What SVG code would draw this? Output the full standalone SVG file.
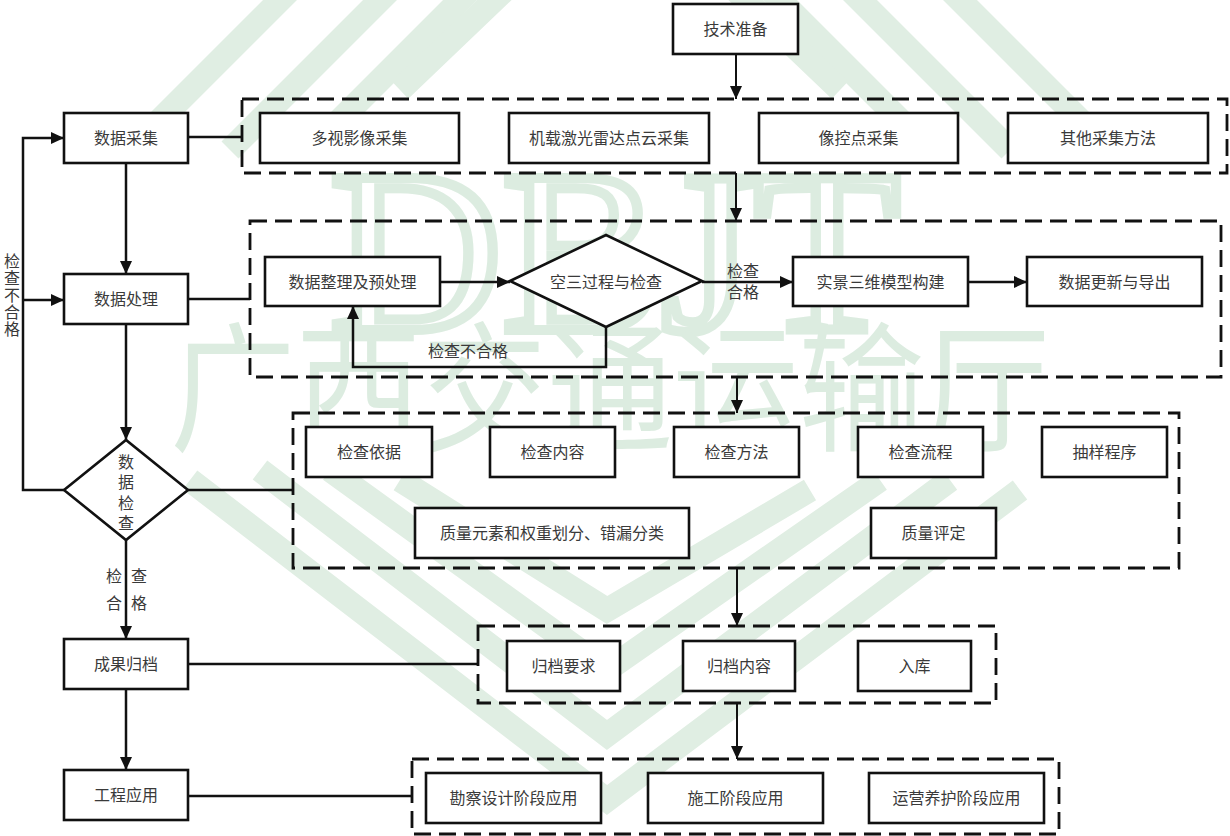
<svg xmlns="http://www.w3.org/2000/svg" width="1230" height="836" viewBox="0 0 1230 836">
<style>
.t{font-family:"Liberation Serif","Noto Sans CJK SC",serif;font-size:16px;fill:#3a3a3a;text-anchor:middle;dominant-baseline:central}
.b{fill:#fff;stroke:#111;stroke-width:2.6}
.d{fill:none;stroke:#111;stroke-width:2.8;stroke-dasharray:17 8}
.c{fill:none;stroke:#111;stroke-width:2.5}
.c2{fill:none;stroke:#111;stroke-width:2}
.wm{fill:none;stroke:#e0eee3;stroke-width:24;stroke-linejoin:miter}
.wt{font-family:"Liberation Serif","Noto Sans CJK SC",serif;fill:#dcece0}
</style>
<defs>
<marker id="ah" markerUnits="userSpaceOnUse" markerWidth="14" markerHeight="12" refX="13" refY="6" orient="auto">
<path d="M0,0 L13,6 L0,12 Z" fill="#111"/>
</marker>
</defs>
<rect width="1230" height="836" fill="#fff"/>
<g id="watermark">
<polyline class="wm" points="130,150 620,-340 1110,150"/>
<polyline class="wm" points="230,150 620,-240 1010,150"/>
<polyline class="wm" points="330,130 620,-160 910,130"/>
<polyline class="wm" points="400,90 620,-120 840,90"/>
<polyline class="wm" points="190,480 607,800 1020,490"/>
<polyline class="wm" points="260,470 607,735 950,480"/>
<polyline class="wm" points="330,470 607,670 880,480"/>
<polyline class="wm" points="400,480 607,610 810,490"/>
<text class="wt" x="330" y="330" font-size="230" textLength="570" lengthAdjust="spacingAndGlyphs" stroke="#dcece0" stroke-width="10" style="fill:none">DBJT</text>
<text class="wt" x="170" y="440" font-size="140" textLength="880" lengthAdjust="spacingAndGlyphs">广西交通运输厅</text>
</g>
<g id="groups">
<rect id="g1" class="d" x="242" y="99" width="985" height="74"/>
<rect id="g2" class="d" x="250" y="221" width="971" height="156"/>
<rect id="g3" class="d" x="293" y="413" width="886" height="155"/>
<rect id="g4" class="d" x="478" y="626" width="518" height="77"/>
<rect id="g5" class="d" x="412" y="759" width="647" height="75"/>
</g>
<g id="connectors">
<line class="c2" x1="736" y1="54" x2="736" y2="99" marker-end="url(#ah)"/>
<line class="c2" x1="736" y1="173" x2="736" y2="221" marker-end="url(#ah)"/>
<line class="c2" x1="737" y1="377" x2="737" y2="413" marker-end="url(#ah)"/>
<line class="c2" x1="737" y1="568" x2="737" y2="626" marker-end="url(#ah)"/>
<line class="c2" x1="737" y1="703" x2="737" y2="759" marker-end="url(#ah)"/>
<line class="c" x1="188" y1="137" x2="242" y2="137"/>
<line class="c" x1="188" y1="299" x2="250" y2="299"/>
<line class="c" x1="188" y1="490" x2="293" y2="490"/>
<line class="c" x1="188" y1="664" x2="478" y2="664"/>
<line class="c" x1="188" y1="796" x2="412" y2="796"/>
<line class="c" x1="126" y1="163" x2="126" y2="274" marker-end="url(#ah)"/>
<line class="c" x1="126" y1="324" x2="126" y2="440" marker-end="url(#ah)"/>
<line class="c" x1="126" y1="540" x2="126" y2="639" marker-end="url(#ah)"/>
<line class="c" x1="126" y1="689" x2="126" y2="770" marker-end="url(#ah)"/>
<polyline class="c" points="64,490 23,490 23,138 64,138" marker-end="url(#ah)"/>
<line class="c" x1="23" y1="300" x2="64" y2="300" marker-end="url(#ah)"/>
<line class="c" x1="440" y1="282" x2="510" y2="282" marker-end="url(#ah)"/>
<line class="c" x1="702" y1="282" x2="793" y2="282" marker-end="url(#ah)"/>
<line class="c" x1="968" y1="282" x2="1027" y2="282" marker-end="url(#ah)"/>
<polyline class="c" points="606,327 606,367 353,367 353,306" marker-end="url(#ah)"/>
<text class="t" x="12" y="261">检</text>
<text class="t" x="12" y="278">查</text>
<text class="t" x="12" y="295">不</text>
<text class="t" x="12" y="312">合</text>
<text class="t" x="12" y="329">格</text>
<text class="t" x="114" y="576">检</text>
<text class="t" x="139" y="576">查</text>
<text class="t" x="114" y="603">合</text>
<text class="t" x="139" y="603">格</text>
<text class="t" x="743" y="271">检查</text>
<text class="t" x="743" y="292">合格</text>
<text class="t" x="468" y="351">检查不合格</text>
</g>
<g id="n-jszb"><rect class="b" x="673" y="4" width="125" height="50"/><text class="t" x="735.5" y="29">技术准备</text></g>
<g id="n-sjcj"><rect class="b" x="64" y="113" width="124" height="50"/><text class="t" x="126" y="138">数据采集</text></g>
<g id="n-dsyx"><rect class="b" x="260" y="113" width="199" height="50"/><text class="t" x="359.5" y="138">多视影像采集</text></g>
<g id="n-jzjg"><rect class="b" x="509" y="113" width="200" height="50"/><text class="t" x="609" y="138">机载激光雷达点云采集</text></g>
<g id="n-xkd"><rect class="b" x="759" y="113" width="199" height="50"/><text class="t" x="858.5" y="138">像控点采集</text></g>
<g id="n-qtcj"><rect class="b" x="1008" y="113" width="200" height="50"/><text class="t" x="1108" y="138">其他采集方法</text></g>
<g id="n-sjcl"><rect class="b" x="64" y="274" width="124" height="50"/><text class="t" x="126" y="299">数据处理</text></g>
<g id="n-sjzl"><rect class="b" x="265" y="257" width="175" height="49"/><text class="t" x="352.5" y="282">数据整理及预处理</text></g>
<g id="n-ks"><polygon class="b" points="510,281 606,235 702,281 606,327"/><text class="t" x="606" y="282">空三过程与检查</text></g>
<g id="n-sj3d"><rect class="b" x="793" y="257" width="175" height="49"/><text class="t" x="880.5" y="282">实景三维模型构建</text></g>
<g id="n-sjgx"><rect class="b" x="1027" y="257" width="175" height="49"/><text class="t" x="1114.5" y="282">数据更新与导出</text></g>
<g id="n-sjjc"><polygon class="b" points="64,490 126,440 188,490 126,540"/>
<text class="t" x="126" y="462">数</text><text class="t" x="126" y="482">据</text><text class="t" x="126" y="503">检</text><text class="t" x="126" y="523">查</text></g>
<g id="n-jcyj"><rect class="b" x="306" y="427" width="126" height="50"/><text class="t" x="369" y="452">检查依据</text></g>
<g id="n-jcnr"><rect class="b" x="490" y="427" width="125" height="50"/><text class="t" x="552.5" y="452">检查内容</text></g>
<g id="n-jcff"><rect class="b" x="674" y="427" width="125" height="50"/><text class="t" x="736.5" y="452">检查方法</text></g>
<g id="n-jclc"><rect class="b" x="858" y="427" width="125" height="50"/><text class="t" x="920.5" y="452">检查流程</text></g>
<g id="n-cycx"><rect class="b" x="1042" y="427" width="125" height="50"/><text class="t" x="1104.5" y="452">抽样程序</text></g>
<g id="n-zlys"><rect class="b" x="415" y="508" width="274" height="50"/><text class="t" x="552" y="533">质量元素和权重划分、错漏分类</text></g>
<g id="n-zlpd"><rect class="b" x="871" y="508" width="125" height="50"/><text class="t" x="933.5" y="533">质量评定</text></g>
<g id="n-cggd"><rect class="b" x="64" y="639" width="124" height="50"/><text class="t" x="126" y="664">成果归档</text></g>
<g id="n-gdyq"><rect class="b" x="507" y="641" width="113" height="50"/><text class="t" x="563.5" y="666">归档要求</text></g>
<g id="n-gdnr"><rect class="b" x="683" y="641" width="112" height="50"/><text class="t" x="739" y="666">归档内容</text></g>
<g id="n-rk"><rect class="b" x="858" y="641" width="113" height="50"/><text class="t" x="914.5" y="666">入库</text></g>
<g id="n-gcyy"><rect class="b" x="64" y="770" width="124" height="50"/><text class="t" x="126" y="795">工程应用</text></g>
<g id="n-kcsj"><rect class="b" x="426" y="773" width="175" height="50"/><text class="t" x="513.5" y="798">勘察设计阶段应用</text></g>
<g id="n-sgjd"><rect class="b" x="648" y="773" width="175" height="50"/><text class="t" x="735.5" y="798">施工阶段应用</text></g>
<g id="n-yyyh"><rect class="b" x="869" y="773" width="175" height="50"/><text class="t" x="956.5" y="798">运营养护阶段应用</text></g>
</svg>
